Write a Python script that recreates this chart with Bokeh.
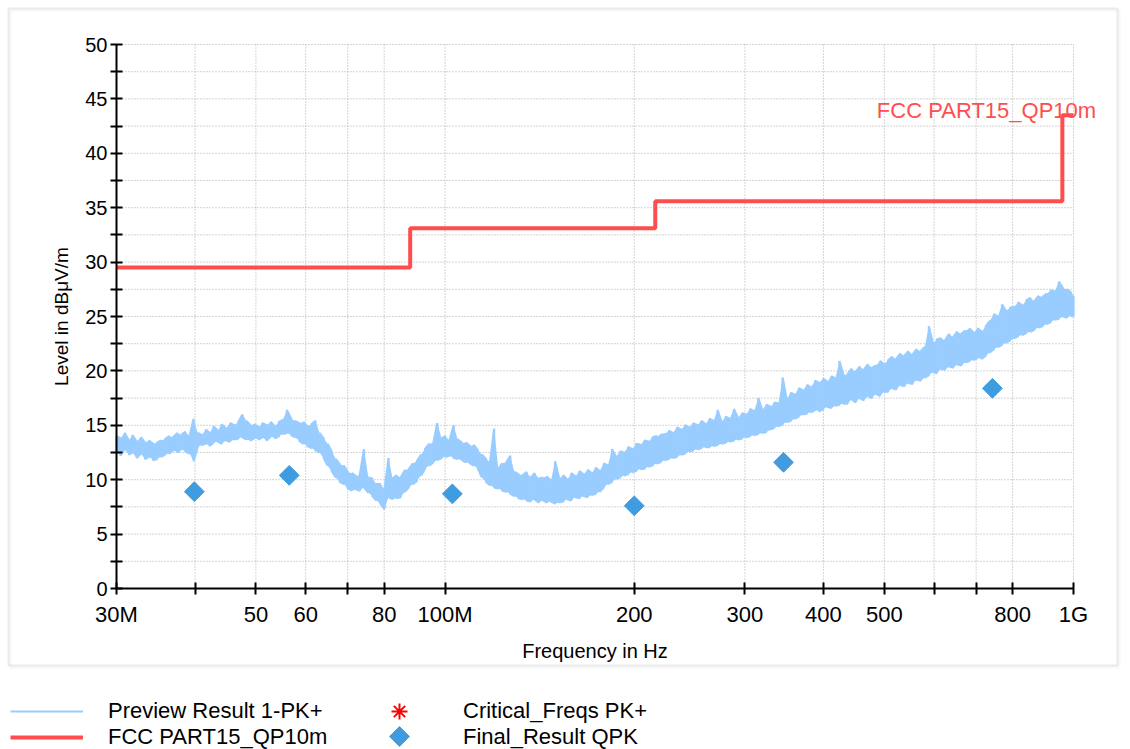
import math
from bokeh.plotting import figure
from bokeh.models import (FixedTicker, Legend, LegendItem, Label, BoxAnnotation,
                          ColumnDataSource, LogAxis, LinearAxis, Grid)
from bokeh.core.properties import value
from bokeh.embed import file_html
from bokeh.resources import INLINE

# ---------------- data ----------------
# Preview Result 1-PK+ : per display bucket, the frequency (MHz) with min and max level (dBuV/m)
preview_mhz = [
    30.0, 30.45, 30.9, 31.4, 31.8, 32.3, 32.8, 33.3, 33.8, 34.3,
    34.8, 35.3, 35.8, 36.4, 36.9, 37.5, 38.0, 38.6, 39.2, 39.8,
    40.4, 41.0, 41.6, 42.2, 42.8, 43.5, 44.1, 44.8, 45.5, 46.2,
    46.9, 47.6, 48.3, 49.0, 49.7, 50.5, 51.2, 52.0, 52.8, 53.6,
    54.4, 55.2, 56.0, 56.9, 57.7, 58.6, 59.5, 60.4, 61.3, 62.2,
    63.1, 64.1, 65.0, 66.0, 67.0, 68.0, 69.0, 70.0, 71.1, 72.2,
    73.2, 74.3, 75.5, 76.6, 77.7, 78.9, 80.1, 81.3, 82.5, 83.7,
    85.0, 86.3, 87.6, 88.9, 90.2, 91.6, 92.9, 94.3, 95.8, 97.2,
    98.7, 100.1, 101.6, 103.2, 104.7, 106.3, 107.9, 109.5, 111.1, 112.8,
    114.5, 116.2, 117.9, 119.7, 121.5, 123.3, 125.2, 127.0, 128.9, 130.9,
    132.8, 134.8, 136.8, 138.9, 141.0, 143.1, 145.2, 147.4, 149.6, 151.9,
    154.2, 156.5, 158.8, 161.2, 163.6, 166.1, 168.6, 171.1, 173.6, 176.2,
    178.9, 181.6, 184.3, 187.1, 189.9, 192.7, 195.6, 198.5, 201.5, 204.5,
    207.6, 210.7, 213.9, 217.1, 220.3, 223.6, 227.0, 230.4, 233.9, 237.4,
    240.9, 244.5, 248.2, 251.9, 255.7, 259.6, 263.5, 267.4, 271.4, 275.5,
    279.6, 283.8, 288.1, 292.4, 296.8, 301.2, 305.7, 310.3, 315.0, 319.7,
    324.5, 329.4, 334.3, 339.3, 344.4, 349.6, 354.8, 360.1, 365.5, 371.0,
    376.6, 382.2, 388.0, 393.8, 399.7, 405.7, 411.8, 418.0, 424.2, 430.6,
    437.0, 443.6, 450.2, 457.0, 463.8, 470.8, 477.8, 485.0, 492.3, 499.6,
    507.1, 514.7, 522.5, 530.3, 538.3, 546.3, 554.5, 562.8, 571.3, 579.9,
    588.6, 597.4, 606.4, 615.5, 624.7, 634.1, 643.6, 653.2, 663.0, 673.0,
    683.1, 693.3, 703.7, 714.3, 725.0, 735.9, 746.9, 758.1, 769.5, 781.0,
    792.7, 804.6, 816.7, 829.0, 841.4, 854.0, 866.8, 879.8, 893.0, 906.4,
    920.0, 933.8, 947.8, 962.0, 976.5, 991.1, 1000.0,
]
preview_hi = [
    14.0, 13.8, 14.3, 13.6, 14.1, 13.5, 13.9, 13.4, 13.6, 13.3,
    13.4, 13.6, 13.7, 14.0, 13.9, 14.3, 14.1, 14.4, 14.0, 15.6,
    14.3, 14.1, 14.6, 14.3, 14.9, 14.5, 15.1, 14.7, 15.2, 15.0,
    15.3, 16.0, 15.4, 15.0, 15.1, 14.8, 15.2, 15.0, 15.3, 14.9,
    15.3, 15.5, 16.4, 15.6, 15.4, 15.2, 15.3, 14.9, 15.1, 15.4,
    14.3, 13.8, 13.3, 12.6, 11.9, 11.4, 11.3, 10.7, 10.6, 10.3,
    10.5, 12.8, 10.2, 10.1, 9.6, 9.6, 9.1, 12.0, 10.1, 10.4,
    10.2, 10.9, 11.0, 11.5, 11.7, 12.3, 12.8, 13.3, 13.4, 15.2,
    13.8, 14.0, 13.6, 15.0, 13.7, 13.4, 13.4, 13.1, 13.2, 12.7,
    12.3, 11.9, 11.6, 14.7, 11.0, 11.5, 11.6, 12.2, 10.7, 10.5,
    10.4, 10.7, 10.2, 10.6, 10.1, 10.2, 10.3, 9.9, 11.7, 10.1,
    10.4, 10.0, 10.6, 10.3, 10.8, 10.5, 10.9, 10.6, 11.1, 10.8,
    11.5, 11.3, 12.8, 12.1, 12.6, 12.5, 13.0, 12.8, 13.3, 13.2,
    13.6, 13.5, 13.9, 14.0, 14.1, 14.2, 14.5, 14.3, 14.8, 14.6,
    15.0, 14.8, 15.2, 15.0, 15.4, 15.1, 15.6, 15.4, 16.4, 15.3,
    15.8, 15.6, 16.5, 15.7, 16.1, 16.0, 16.5, 16.3, 17.5, 16.4,
    16.9, 16.7, 17.1, 17.0, 19.4, 17.4, 18.0, 17.8, 18.4, 18.2,
    18.7, 18.5, 19.1, 18.9, 19.3, 19.0, 19.5, 19.3, 20.9, 19.6,
    19.7, 20.2, 19.9, 20.4, 20.1, 20.6, 20.3, 20.5, 20.9, 20.6,
    21.0, 21.3, 21.1, 21.6, 21.4, 21.8, 21.5, 22.0, 21.8, 22.2,
    24.1, 22.5, 22.9, 23.0, 22.8, 23.4, 23.1, 23.6, 23.4, 23.7,
    23.9, 23.5, 23.9, 23.6, 24.1, 24.6, 25.2, 25.0, 26.1, 25.5,
    25.8, 25.9, 26.3, 26.0, 26.5, 26.7, 26.4, 26.9, 26.8, 27.1,
    27.4, 27.3, 28.2, 27.6, 27.5, 27.2, 26.9,
]
preview_lo = [
    12.6, 12.2, 12.8, 12.3, 12.5, 12.0, 12.4, 11.9, 12.1, 11.8,
    11.9, 12.1, 12.3, 12.4, 12.7, 12.5, 12.8, 12.6, 12.4, 11.7,
    13.0, 13.2, 13.3, 13.1, 13.4, 13.5, 13.3, 13.6, 13.5, 13.7,
    13.8, 13.9, 13.7, 13.6, 13.8, 13.7, 13.9, 13.6, 14.0, 13.8,
    14.0, 14.2, 14.3, 14.1, 13.9, 13.6, 13.3, 13.1, 12.9, 12.7,
    12.5, 12.0, 11.3, 10.8, 10.2, 9.8, 9.6, 9.2, 9.0, 9.1,
    9.0, 9.3, 8.8, 8.5, 8.1, 7.8, 7.3, 8.4, 8.2, 8.3,
    8.4, 8.9, 9.3, 9.6, 9.9, 10.4, 11.0, 11.3, 11.6, 11.8,
    12.0, 12.1, 12.2, 12.0, 11.9, 11.8, 11.6, 11.5, 11.3, 11.0,
    10.2, 9.8, 9.5, 9.3, 9.2, 9.0, 8.9, 8.7, 8.5, 8.3,
    8.2, 8.1, 8.0, 8.2, 7.9, 8.1, 7.9, 8.0, 7.8, 7.9,
    8.0, 8.2, 8.1, 8.4, 8.3, 8.5, 8.4, 8.6, 8.7, 8.9,
    9.3, 9.6, 9.8, 10.1, 10.2, 10.4, 10.5, 10.7, 10.8, 11.0,
    11.0, 11.2, 11.3, 11.5, 11.6, 11.8, 11.9, 12.0, 12.1, 12.3,
    12.4, 12.6, 12.7, 12.8, 12.9, 13.0, 13.0, 13.1, 13.2, 13.3,
    13.4, 13.5, 13.6, 13.7, 13.8, 13.9, 14.0, 14.1, 14.2, 14.3,
    14.4, 14.6, 14.8, 14.9, 15.1, 15.3, 15.4, 15.6, 15.8, 16.0,
    16.1, 16.2, 16.4, 16.3, 16.5, 16.7, 16.6, 16.8, 16.9, 17.0,
    17.0, 17.4, 17.1, 17.5, 17.3, 17.7, 17.5, 17.9, 17.7, 18.1,
    18.1, 18.4, 18.3, 18.7, 18.6, 18.9, 18.8, 19.2, 19.1, 19.4,
    19.6, 19.9, 19.8, 20.2, 20.1, 20.4, 20.3, 20.6, 20.5, 20.8,
    20.9, 21.0, 21.2, 21.1, 21.4, 21.7, 22.0, 22.2, 22.4, 22.6,
    22.8, 23.0, 23.2, 23.3, 23.5, 23.6, 23.8, 24.0, 24.1, 24.3,
    24.5, 24.7, 24.8, 25.0, 24.9, 25.1, 25.0,
]

limit_mhz = [30.0, 88.0, 216.0, 960.0, 1000.0]
limit_db = [29.5, 33.1, 35.6, 43.5, 43.5]

final_mhz = [39.9, 56.5, 102.7, 200.0, 345.6, 743.0]
final_db = [8.9, 10.4, 8.7, 7.6, 11.6, 18.4]

critical_mhz = []
critical_db = []

x_tick_mhz = [30, 40, 50, 60, 70, 80, 100, 200, 300, 400, 500, 600, 700, 800, 1000]
x_tick_labels = ["30M", "", "50", "60", "", "80", "100M", "200", "300", "400", "500",
                 "", "", "800", "1G"]
y_major = [0, 5, 10, 15, 20, 25, 30, 35, 40, 45, 50]
y_minor = [2.5, 7.5, 12.5, 17.5, 22.5, 27.5, 32.5, 37.5, 42.5, 47.5]

# ---------------- layout constants ----------------
W, H = 1130, 749
PX_LEFT, PX_RIGHT = 116, 1073      # pixel x of 30 MHz and 1 GHz
PX_BOTTOM, PX_TOP = 588, 44        # pixel y of 0 and 50 dB
X_MIN, X_MAX = 30e6, 1e9
Y_MIN, Y_MAX = 0.0, 50.0
LEG2_X, LEG_ROW1, LEG_ROW2 = 399, 711, 736   # legend swatch centres (px)

ppd = (PX_RIGHT - PX_LEFT) / math.log10(X_MAX / X_MIN)
xr = (10 ** (math.log10(X_MIN) - PX_LEFT / ppd),
      10 ** (math.log10(X_MAX) + (W - PX_RIGHT) / ppd))
upp = (Y_MAX - Y_MIN) / (PX_BOTTOM - PX_TOP)
yr = (Y_MIN - (H - PX_BOTTOM) * upp, Y_MAX + PX_TOP * upp)


def px_to_x(px):
    return 10 ** (math.log10(xr[0]) + px / ppd)


def px_to_y(py):
    return yr[1] - py * upp


FONT = "Liberation Sans"
TRACE_C = "#99CCFF"
LIMIT_C = "#FF4D4D"
FINAL_C = "#409CE0"

p = figure(width=W, height=H, x_axis_type="log", x_range=xr, y_range=yr,
           x_axis_location=None, y_axis_location=None,
           output_backend="svg", toolbar_location=None,
           min_border=0, min_border_left=0, min_border_right=0,
           min_border_top=0, min_border_bottom=0)
p.center = [c for c in p.center if not isinstance(c, Grid)]
p.outline_line_color = None
p.background_fill_color = "white"
p.border_fill_color = "white"

# outer frame box
p.add_layout(BoxAnnotation(left=10, right=1119, top=10, bottom=667,
                           left_units="canvas", right_units="canvas",
                           top_units="canvas", bottom_units="canvas",
                           fill_alpha=0, line_color="#E6E6E6", line_width=2))
p.add_layout(BoxAnnotation(left=8, right=1117, top=8, bottom=665,
                           left_units="canvas", right_units="canvas",
                           top_units="canvas", bottom_units="canvas",
                           fill_alpha=0, line_color="#B8B8B8", line_width=2))

# dotted grid, built from the tick lists
xt = [v * 1e6 for v in x_tick_mhz]
y_all = sorted(y_major + y_minor)
p.segment(x0=xt, x1=xt, y0=[Y_MIN] * len(xt), y1=[Y_MAX] * len(xt),
          line_color="#AAAAAA", line_dash="1 2", line_width=1)
p.segment(x0=[X_MIN] * len(y_all), x1=[X_MAX] * len(y_all), y0=y_all, y1=y_all,
          line_color="#AAAAAA", line_dash="1 2", line_width=1)

# axes (fixed inside the full-canvas frame)
xaxis = LogAxis(fixed_location=Y_MIN, bounds=(X_MIN, X_MAX),
                ticker=FixedTicker(ticks=xt, minor_ticks=[]))
xaxis.major_label_overrides = {int(t): lab for t, lab in zip(xt, x_tick_labels)}
yaxis = LinearAxis(fixed_location=X_MIN, bounds=(Y_MIN, Y_MAX),
                   ticker=FixedTicker(ticks=y_major, minor_ticks=y_minor))
for ax in (xaxis, yaxis):
    ax.axis_line_color = "black"
    ax.axis_line_width = 2
    ax.major_tick_line_color = "black"
    ax.major_tick_line_width = 2
    ax.major_tick_in = 6
    ax.major_tick_out = 6
    ax.minor_tick_line_color = "black"
    ax.minor_tick_line_width = 2
    ax.minor_tick_in = 6
    ax.minor_tick_out = 6
    ax.major_label_text_font = FONT
    ax.major_label_text_color = "black"
    ax.axis_label_text_font = FONT
    ax.axis_label_text_font_style = "normal"
    ax.axis_label_text_color = "black"
xaxis.major_label_text_font_size = "22px"
xaxis.major_label_standoff = 7
xaxis.axis_label = "Frequency in Hz"
xaxis.axis_label_text_font_size = "20px"
xaxis.axis_label_standoff = 10
yaxis.major_label_text_font_size = "20px"
yaxis.major_label_standoff = 3
yaxis.axis_label = "Level in dBμV/m"
yaxis.axis_label_text_font_size = "19px"
yaxis.axis_label_standoff = 10
p.add_layout(xaxis, "below")
p.add_layout(yaxis, "left")

# preview trace: dense min/max band plus the connected min/max path
p.varea(x=[f * 1e6 for f in preview_mhz], y1=preview_lo, y2=preview_hi,
        fill_color=TRACE_C, fill_alpha=1.0)
tx, ty = [], []
for i, f in enumerate(preview_mhz):
    a, b = (preview_lo[i], preview_hi[i]) if i % 2 == 0 else (preview_hi[i], preview_lo[i])
    tx += [f * 1e6, f * 1e6]
    ty += [a, b]
src_prev = ColumnDataSource(data=dict(x=tx, y=ty))
r_trace = p.line("x", "y", source=src_prev, line_color=TRACE_C, line_width=2.2)

# limit (step built from the limit arrays)
lx, ly = [], []
for i in range(len(limit_mhz) - 1):
    lx += [limit_mhz[i] * 1e6, limit_mhz[i + 1] * 1e6]
    ly += [limit_db[i], limit_db[i]]
lx.append(limit_mhz[-1] * 1e6)
ly.append(limit_db[-1])
r_limit = p.line(lx, ly, line_color=LIMIT_C, line_width=4)

# critical freqs (none found)
r_crit = p.scatter([v * 1e6 for v in critical_mhz], critical_db, marker="asterisk",
                   size=16, line_color="#FF0000", line_width=2)

# final results
r_final = p.scatter([v * 1e6 for v in final_mhz], final_db, marker="square",
                    angle=math.pi / 4, size=14, fill_color=FINAL_C, line_color=FINAL_C)

# limit label
p.add_layout(Label(x=X_MAX, y=limit_db[-1], x_offset=-87, y_offset=5,
                   text="FCC PART15_QP10m", text_align="center",
                   text_baseline="alphabetic", text_color=LIMIT_C,
                   text_font=FONT, text_font_size="22px"))

# legends
common = dict(orientation="vertical", padding=0, margin=0, spacing=0,
              border_line_color=None, background_fill_alpha=0,
              label_text_font=FONT, label_text_font_size="22px",
              label_text_color="black", glyph_height=20)
leg1 = Legend(items=[LegendItem(label=value("Preview Result 1-PK+"), renderers=[r_trace]),
                     LegendItem(label=value("FCC PART15_QP10m"), renderers=[r_limit])],
              location=(10, -1), glyph_width=73, label_standoff=25, **common)
leg2 = Legend(items=[LegendItem(label=value("Critical_Freqs PK+"), renderers=[r_crit]),
                     LegendItem(label=value("Final_Result QPK"), renderers=[r_final])],
              location=(LEG2_X - 10, -1), glyph_width=20, label_standoff=54, **common)
p.add_layout(leg1)
p.add_layout(leg2)

# full-size legend swatches for the two marker entries
p.scatter([px_to_x(LEG2_X)], [px_to_y(LEG_ROW1)], marker="asterisk", size=16,
          line_color="#FF0000", line_width=2)
p.scatter([px_to_x(LEG2_X)], [px_to_y(LEG_ROW2)], marker="square", angle=math.pi / 4,
          size=14, fill_color=FINAL_C, line_color=FINAL_C)

open("out.html", "w").write(file_html(p, INLINE))
